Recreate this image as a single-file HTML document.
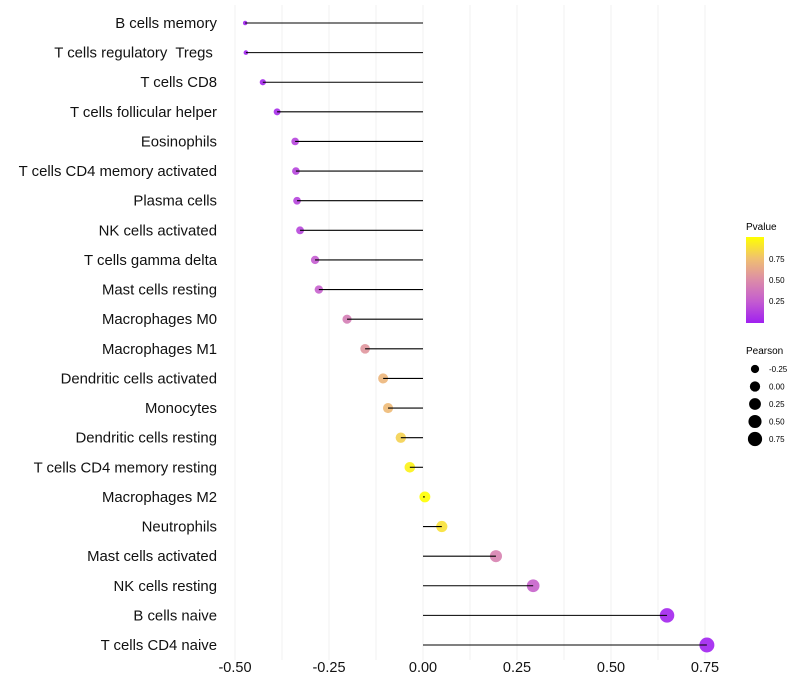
<!DOCTYPE html>
<html><head><meta charset="utf-8"><style>
body{margin:0;background:#fff;}
svg{display:block;font-family:"Liberation Sans",Arial,sans-serif;}
</style></head><body>
<svg id="chart" width="800" height="700" viewBox="0 0 800 700">
<g id="grid"></g>
<g id="ylabels"></g>
<g id="xlabels"></g>
<g id="marks"></g>
<g id="legend">
  <defs><linearGradient id="pg" x1="0" y1="1" x2="0" y2="0">
    <stop offset="0" stop-color="#A020F0"/><stop offset="0.25" stop-color="#C45CD0"/><stop offset="0.5" stop-color="#DC8CA8"/><stop offset="0.75" stop-color="#F0C070"/><stop offset="1" stop-color="#FFFF00"/>
  </linearGradient></defs>
  <text x="746" y="230" font-size="10">Pvalue</text>
  <rect x="746" y="237" width="18" height="86" fill="url(#pg)"/>
  <text x="769" y="262" font-size="8">0.75</text>
  <text x="769" y="283" font-size="8">0.50</text>
  <text x="769" y="304" font-size="8">0.25</text>
  <text x="746" y="354" font-size="10">Pearson</text>
</g>
</svg>
<script>
const categories=["B cells memory","T cells regulatory  Tregs ","T cells CD8","T cells follicular helper","Eosinophils","T cells CD4 memory activated","Plasma cells","NK cells activated","T cells gamma delta","Mast cells resting","Macrophages M0","Macrophages M1","Dendritic cells activated","Monocytes","Dendritic cells resting","T cells CD4 memory resting","Macrophages M2","Neutrophils","Mast cells activated","NK cells resting","B cells naive","T cells CD4 naive"];
const pearson=[-0.473,-0.471,-0.426,-0.388,-0.34,-0.338,-0.335,-0.327,-0.287,-0.277,-0.202,-0.154,-0.106,-0.093,-0.059,-0.035,0.005,0.05,0.194,0.293,0.649,0.755];
const pvalue=[0.01,0.01,0.03,0.05,0.15,0.15,0.15,0.16,0.25,0.27,0.42,0.55,0.7,0.72,0.82,0.95,1.0,0.88,0.45,0.28,0.02,0.01];
const xTicks=[-0.5,-0.25,0,0.25,0.5,0.75];
const xTickLabels=["-0.50","-0.25","0.00","0.25","0.50","0.75"];
const legendSizes=[-0.25,0,0.25,0.5,0.75];
const legendSizeLabels=["-0.25","0.00","0.25","0.50","0.75"];

const NS="http://www.w3.org/2000/svg";
const x=v=>423+v*376;
const y=i=>23+i*(622/21);
const r=v=>2+5.5*Math.sqrt(Math.max(0,(v+0.475)/1.23));
const stops=[[0,[160,32,240]],[0.25,[196,92,208]],[0.5,[220,140,168]],[0.75,[240,192,112]],[1,[255,255,0]]];
function col(p){p=Math.max(0,Math.min(1,p));for(let k=1;k<stops.length;k++){if(p<=stops[k][0]){const a=stops[k-1],b=stops[k];const t=(p-a[0])/(b[0]-a[0]);return "rgb("+a[1].map((c,j)=>Math.round(c+(b[1][j]-c)*t)).join(",")+")";}}return "rgb(255,255,0)";}
function mk(t,attrs,parent){const e=document.createElementNS(NS,t);for(const k in attrs)e.setAttribute(k,attrs[k]);parent.appendChild(e);return e;}
const grid=document.getElementById('grid'),yl=document.getElementById('ylabels'),xl=document.getElementById('xlabels'),marks=document.getElementById('marks'),leg=document.getElementById('legend');
for(let v=-0.5;v<=0.751;v+=0.125){
  const g=mk('line',{x1:x(v),x2:x(v),y1:5,y2:660,stroke:'#f0f0f0','stroke-width':1},grid);
  
  
}
xTicks.forEach((v,i)=>{
  const t=mk('text',{x:x(v),y:672,'font-size':14.5,'text-anchor':'middle',fill:'#111'},xl);
  t.textContent=xTickLabels[i];
  
  
});
categories.forEach((c,i)=>{
  const t=mk('text',{x:217,y:y(i)+5,'font-size':14.9,'text-anchor':'end',fill:'#111',style:'white-space:pre'},yl);
  t.textContent=c;
  
  
  const pt=mk('circle',{cx:x(pearson[i]),cy:y(i),r:r(pearson[i]),fill:col(pvalue[i]),'fill-opacity':0.9},marks);
  
  
  const ln=mk('line',{x1:x(0),x2:x(pearson[i]),y1:y(i),y2:y(i),stroke:'#000','stroke-width':1.1},marks);
  
  
});
legendSizes.forEach((v,i)=>{
  const yy=369+i*17.5;
  const c=mk('circle',{cx:755,cy:yy,r:r(v)*0.95,fill:'#000'},leg);
  
  
  const t=mk('text',{x:769,y:yy+3,'font-size':8},leg);
  t.textContent=legendSizeLabels[i];
  
  
});
</script>
</body></html>
